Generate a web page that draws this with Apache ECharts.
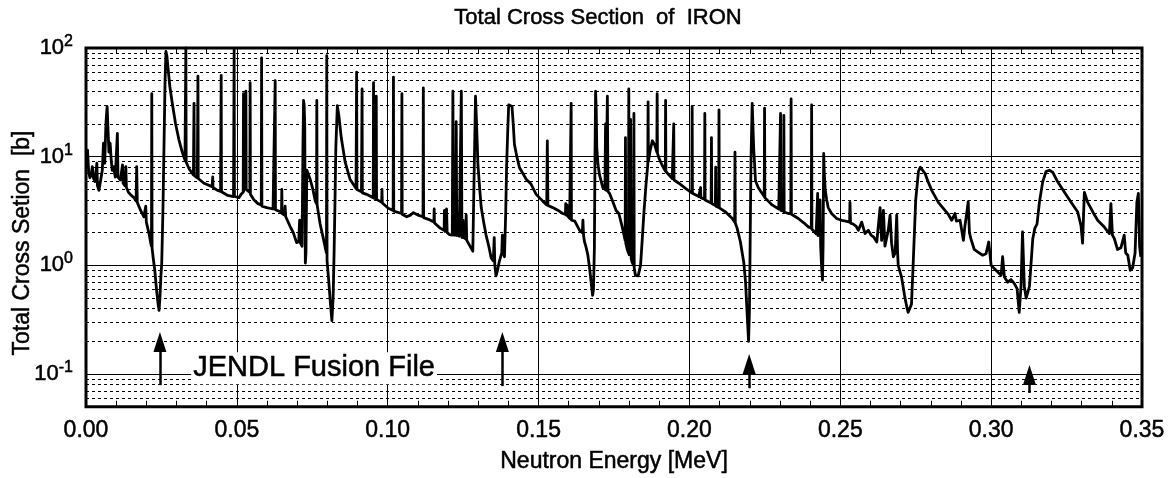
<!DOCTYPE html>
<html>
<head>
<meta charset="utf-8">
<title>Total Cross Section of IRON</title>
<script src="https://cdn.jsdelivr.net/npm/echarts@6/dist/echarts.min.js"></script>
<style>
  html, body { margin: 0; padding: 0; background: #fff; }
  #chart { width: 1169px; height: 478px; }
</style>
</head>
<body>
<div id="chart"></div>
<script>
// Fe total cross section, JENDL Fusion File: [energy (MeV), sigma (b)]
const sigma0to60keV = [
  [0.0001, 8.0], [0.0005, 11.5], [0.0009, 7.2], [0.0013, 6.4], [0.0017, 6.8], [0.0021, 8.1],
  [0.0025, 6.3], [0.0030, 5.9], [0.0034, 6.1], [0.0036, 8.7], [0.0038, 5.4], [0.0043, 4.9],
  [0.0049, 5.1], [0.0054, 7.5], [0.0058, 13.3], [0.0062, 8.7], [0.0066, 20], [0.0070, 29],
  [0.0073, 17.6], [0.0076, 11], [0.0080, 13.3], [0.0084, 9.0], [0.0087, 7.5], [0.0091, 8.1],
  [0.0097, 6.5], [0.0102, 6.4], [0.0104, 16.4], [0.0106, 6.5], [0.0114, 6.1], [0.0119, 5.9],
  [0.0121, 8.4], [0.0123, 5.7], [0.0129, 5.4], [0.0132, 8.1], [0.0134, 5.2], [0.0141, 4.7],
  [0.0150, 4.4], [0.0159, 4.2], [0.0166, 3.9], [0.0168, 8.1], [0.0170, 3.8], [0.0181, 3.2],
  [0.0192, 2.8], [0.0196, 2.7], [0.0198, 3.5], [0.0200, 2.5], [0.0209, 1.96], [0.0215, 1.58],
  [0.0217, 1.5], [0.0218, 38], [0.0219, 1.45], [0.0223, 1.15], [0.0228, 0.9], [0.0234, 0.59],
  [0.0239, 0.44], [0.0242, 0.385], [0.0245, 0.5], [0.0248, 0.78], [0.0251, 1.04], [0.0255, 3.2],
  [0.0259, 15], [0.0262, 50], [0.0265, 93], [0.0268, 85], [0.0272, 65], [0.0278, 44],
  [0.0286, 31], [0.0297, 20], [0.0308, 14.3], [0.0319, 11], [0.0328, 9.3], [0.0330, 9.0],
  [0.0331, 100], [0.0332, 8.9], [0.0342, 7.7], [0.0356, 6.8], [0.0357, 6.8], [0.0358, 31],
  [0.0359, 6.7], [0.0369, 6.4], [0.0370, 6.4], [0.0371, 55], [0.0372, 6.3], [0.0391, 5.7],
  [0.0418, 5.3], [0.0419, 5.3], [0.0420, 6.5], [0.0421, 5.2], [0.0436, 4.9], [0.0446, 4.8],
  [0.0447, 4.8], [0.0448, 56], [0.0449, 4.75], [0.0470, 4.4], [0.0489, 4.3], [0.0490, 4.3],
  [0.0491, 97], [0.0492, 4.3], [0.0507, 4.2], [0.0514, 4.5], [0.0521, 4.7], [0.0522, 38],
  [0.0523, 4.8], [0.0529, 5.0], [0.0530, 40], [0.0531, 5.0], [0.0537, 4.9], [0.0543, 4.7],
  [0.0544, 48], [0.0545, 4.5], [0.0557, 4.0], [0.0570, 3.7], [0.0581, 3.6], [0.0582, 81],
  [0.0583, 3.5], [0.0599, 3.4]
];

const sigma60to120keV = [
  [0.0620, 3.3], [0.0626, 3.3], [0.0627, 50], [0.0628, 3.25], [0.0640, 3.15], [0.0648, 3.1],
  [0.0649, 5.0], [0.0650, 3.0], [0.0658, 2.9], [0.0660, 3.5], [0.0662, 2.8], [0.0676, 2.3],
  [0.0687, 2.0], [0.0698, 1.62], [0.0705, 1.65], [0.0708, 2.6], [0.0711, 1.6], [0.0716, 1.5],
  [0.0719, 12], [0.0721, 33], [0.0723, 30], [0.0725, 20], [0.0727, 1.05], [0.0729, 1.3],
  [0.0732, 7.5], [0.0736, 7.0], [0.0743, 6.2], [0.0752, 5.0], [0.0760, 3.9], [0.0764, 3.7],
  [0.0765, 33], [0.0766, 3.6], [0.0776, 2.4], [0.0786, 1.8], [0.0793, 1.45], [0.0797, 1.3],
  [0.0798, 85], [0.0799, 1.1], [0.0804, 0.75], [0.0810, 0.45], [0.0815, 0.31], [0.0819, 0.5],
  [0.0822, 1.2], [0.0825, 3.5], [0.0828, 12], [0.0833, 29.5], [0.0838, 24], [0.0846, 15],
  [0.0859, 8.9], [0.0875, 6.2], [0.0895, 5.1], [0.0896, 5.05], [0.0897, 60], [0.0898, 5.0],
  [0.0913, 4.75], [0.0914, 4.7], [0.0915, 42], [0.0916, 4.65], [0.0930, 4.5], [0.0952, 4.2],
  [0.0953, 48], [0.0954, 4.15], [0.0961, 4.1], [0.0962, 36], [0.0963, 4.05], [0.0980, 3.8],
  [0.0981, 5.0], [0.0982, 3.75], [0.1002, 3.35], [0.1018, 3.2], [0.1019, 54], [0.1020, 3.15],
  [0.1046, 3.0], [0.1047, 38], [0.1048, 2.95], [0.1063, 2.8], [0.1075, 2.9], [0.1085, 3.05],
  [0.1100, 2.9], [0.1117, 2.8], [0.1118, 43], [0.1119, 2.75], [0.1135, 2.65], [0.1153, 2.5],
  [0.1154, 3.3], [0.1155, 2.45], [0.1174, 2.2], [0.1187, 2.1], [0.1188, 3.2], [0.1190, 2.05],
  [0.1195, 3.3], [0.1197, 2.0], [0.1205, 1.92]
];

const sigma120to235keV = [
  [0.1214, 1.9], [0.1216, 40], [0.1218, 1.9], [0.1225, 1.9], [0.1227, 21], [0.1229, 1.88],
  [0.1232, 1.85], [0.1235, 3.0], [0.1237, 1.85], [0.1242, 1.85], [0.1244, 40], [0.1246, 1.8],
  [0.1250, 2.6], [0.1252, 1.8], [0.1259, 1.75], [0.1260, 2.9], [0.1262, 1.7], [0.1270, 1.55],
  [0.1282, 1.35], [0.1288, 1.4], [0.1291, 36], [0.1294, 22], [0.1299, 8.5], [0.1305, 5.0],
  [0.1310, 3.4], [0.1318, 2.5], [0.1326, 1.9], [0.1335, 1.5], [0.1343, 1.17], [0.1350, 1.1],
  [0.1353, 1.8], [0.1355, 1.0], [0.1359, 0.8], [0.1364, 0.9], [0.1370, 1.09], [0.1378, 1.3],
  [0.1380, 1.9], [0.1383, 1.3], [0.1387, 1.2], [0.1391, 3.0], [0.1394, 8], [0.1398, 18],
  [0.1401, 30], [0.1406, 30], [0.1412, 29], [0.1416, 20], [0.1420, 13], [0.1428, 10],
  [0.1437, 7.9], [0.1448, 7.0], [0.1459, 6.2], [0.1475, 5.6], [0.1492, 4.5], [0.1514, 3.9],
  [0.1527, 3.6], [0.1529, 14], [0.1531, 3.55], [0.1547, 3.4], [0.1565, 3.2], [0.1580, 3.0],
  [0.1589, 2.95], [0.1590, 3.7], [0.1592, 2.9], [0.1594, 3.6], [0.1596, 2.85], [0.1603, 2.7],
  [0.1607, 2.65], [0.1608, 31], [0.1609, 2.6], [0.1620, 2.55], [0.1636, 2.1], [0.1645, 2.0],
  [0.1647, 2.6], [0.1649, 1.9], [0.1652, 1.66], [0.1658, 1.45], [0.1663, 1.26], [0.1669, 0.95],
  [0.1674, 0.71], [0.1679, 0.53], [0.1682, 0.6], [0.1685, 1.45], [0.1687, 10], [0.1689, 40],
  [0.1691, 28], [0.1693, 12], [0.1697, 8.5], [0.1702, 6.8], [0.1713, 5.2], [0.1720, 5.0],
  [0.1722, 20], [0.1724, 4.9], [0.1727, 4.9], [0.1728, 36], [0.1730, 4.8], [0.1735, 4.6],
  [0.1744, 4.0], [0.1757, 3.2], [0.1766, 3.0], [0.1775, 2.4], [0.1783, 1.9], [0.1787, 1.7],
  [0.1788, 15], [0.1789, 1.6], [0.1794, 1.4], [0.1798, 1.3], [0.1799, 42], [0.1800, 1.25],
  [0.1803, 1.2], [0.1805, 22], [0.1807, 1.15], [0.1810, 1.07], [0.1815, 1.0], [0.1816, 25],
  [0.1817, 0.95], [0.1821, 0.81], [0.1830, 0.8], [0.1838, 1.0], [0.1844, 1.8], [0.1849, 3.0],
  [0.1856, 5.5], [0.1862, 8.5], [0.1863, 32], [0.1864, 9.0], [0.1870, 11.5], [0.1877, 14],
  [0.1885, 12.8], [0.1892, 11], [0.1893, 38], [0.1894, 10.8], [0.1899, 9.7], [0.1910, 8.3],
  [0.1920, 7.4], [0.1921, 33], [0.1922, 7.3], [0.1943, 6.3], [0.1947, 6.2], [0.1948, 20],
  [0.1949, 6.1], [0.1965, 5.7], [0.1987, 5.1], [0.2008, 4.65], [0.2009, 29], [0.2010, 4.6],
  [0.2031, 4.3], [0.2036, 4.25], [0.2037, 5.2], [0.2038, 4.2], [0.2050, 4.05], [0.2051, 25],
  [0.2052, 4.0], [0.2072, 3.75], [0.2073, 15], [0.2074, 3.7], [0.2086, 3.55], [0.2087, 8],
  [0.2088, 3.5], [0.2097, 3.4], [0.2098, 27], [0.2099, 3.38], [0.2120, 3.1], [0.2142, 2.7],
  [0.2150, 2.5], [0.2151, 11], [0.2152, 2.45], [0.2158, 2.2], [0.2169, 1.64], [0.2180, 1.07],
  [0.2186, 0.7], [0.2191, 0.37], [0.2196, 0.2], [0.2199, 0.4], [0.2201, 1.4], [0.2204, 9],
  [0.2208, 31], [0.2213, 12], [0.2219, 6.0], [0.2228, 5.2], [0.2236, 4.8], [0.2248, 4.3],
  [0.2249, 28], [0.2250, 4.2], [0.2274, 3.6], [0.2296, 3.3], [0.2301, 3.25], [0.2302, 25],
  [0.2303, 3.2], [0.2312, 3.15], [0.2313, 24], [0.2314, 3.1], [0.2328, 3.0], [0.2336, 3.0],
  [0.2337, 34], [0.2338, 2.95]
];

const sigma235to350keV = [
  [0.2361, 2.7], [0.2380, 2.45], [0.2394, 2.26], [0.2404, 2.2], [0.2405, 30], [0.2406, 2.15],
  [0.2411, 2.1], [0.2420, 1.95], [0.2424, 1.9], [0.2425, 4.6], [0.2426, 1.88], [0.2431, 1.85],
  [0.2433, 4.0], [0.2435, 1.5], [0.2438, 0.97], [0.2441, 0.73], [0.2443, 1.5], [0.2445, 10.7],
  [0.2447, 7], [0.2450, 5.0], [0.2455, 4.0], [0.2460, 3.4], [0.2471, 3.0], [0.2488, 2.7],
  [0.2504, 2.6], [0.2518, 2.55], [0.2531, 2.5], [0.2532, 3.8], [0.2534, 2.45], [0.2543, 2.4],
  [0.2552, 2.3], [0.2560, 2.1], [0.2571, 2.5], [0.2582, 1.96], [0.2593, 2.1], [0.2602, 1.9],
  [0.2610, 1.83], [0.2621, 1.64], [0.2632, 3.4], [0.2637, 1.7], [0.2643, 3.2], [0.2648, 1.5],
  [0.2659, 2.1], [0.2665, 2.9], [0.2670, 1.6], [0.2676, 1.2], [0.2682, 1.3], [0.2687, 2.9],
  [0.2690, 1.3], [0.2692, 1.0], [0.2703, 0.78], [0.2714, 0.51], [0.2720, 0.42], [0.2725, 0.37],
  [0.2731, 0.38], [0.2736, 0.44], [0.2742, 1.1], [0.2750, 4.0], [0.2759, 7.3], [0.2765, 8.0],
  [0.2770, 8.0], [0.2781, 7.0], [0.2792, 5.8], [0.2803, 4.9], [0.2825, 3.8], [0.2847, 3.2],
  [0.2858, 2.95], [0.2869, 2.6], [0.2875, 2.8], [0.2880, 3.0], [0.2885, 2.55], [0.2891, 2.5],
  [0.2897, 2.6], [0.2902, 2.7], [0.2908, 1.7], [0.2913, 2.3], [0.2919, 3.0], [0.2924, 3.85],
  [0.2928, 2.0], [0.2933, 1.75], [0.2944, 1.4], [0.2955, 1.33], [0.2972, 1.24], [0.2983, 1.28],
  [0.2992, 1.64], [0.3000, 1.0], [0.3016, 0.9], [0.3033, 0.81], [0.3038, 1.2], [0.3044, 0.78],
  [0.3055, 0.7], [0.3066, 0.74], [0.3077, 0.68], [0.3086, 0.61], [0.3093, 0.37], [0.3099, 0.64],
  [0.3104, 2.03], [0.3110, 0.64], [0.3116, 0.5], [0.3121, 0.49], [0.3127, 0.64], [0.3138, 1.76],
  [0.3145, 2.2], [0.3152, 2.4], [0.3160, 3.8], [0.3171, 5.9], [0.3182, 7.3], [0.3193, 7.5],
  [0.3204, 7.2], [0.3220, 5.9], [0.3243, 4.7], [0.3265, 3.8], [0.3287, 3.1], [0.3298, 2.3],
  [0.3303, 1.6], [0.3309, 4.7], [0.3320, 3.8], [0.3337, 3.1], [0.3353, 2.6], [0.3375, 2.25],
  [0.3392, 1.96], [0.3397, 3.7], [0.3402, 1.9], [0.3408, 1.77], [0.3419, 1.4], [0.3430, 1.45],
  [0.3441, 1.9], [0.3446, 1.3], [0.3453, 1.24], [0.3461, 0.9], [0.3469, 0.95], [0.3477, 1.3],
  [0.3483, 3.8], [0.3488, 4.6], [0.3492, 1.5], [0.3496, 1.2]
];

// Axis ticks
const energyTicks = [0.00, 0.05, 0.10, 0.15, 0.20, 0.25, 0.30, 0.35];
const sigmaDecades = [0.1, 1, 10, 100];
const sigmaMinorGrid = [
  0.06, 0.07, 0.08, 0.09,
  0.2, 0.3, 0.4, 0.5, 0.6, 0.7, 0.8, 0.9,
  2, 3, 4, 5, 6, 7, 8, 9,
  20, 30, 40, 50, 60, 70, 80, 90
];

// Arrows marking the cross-section windows: energy, shaft foot, arrow head
const arrowEnergy = [0.0245, 0.1380, 0.2198, 0.3127];
const arrowFoot   = [0.079, 0.0775, 0.074, 0.067];
const arrowHead   = [0.197, 0.197, 0.124, 0.098];

// Library label position
const libraryLabel = { text: 'JENDL Fusion File', energy: 0.0756, sigma: 0.113 };

const FONT = '"Liberation Sans", Arial, Helvetica, sans-serif';
// slight stroke so the lettering has the weight of the printed figure
const INK = { color: '#000', textBorderColor: '#000', textBorderWidth: 0.5 };

const crossSection = [].concat(sigma0to60keV, sigma60to120keV, sigma120to235keV, sigma235to350keV);

function isDecade(v) {
  return sigmaDecades.some(d => Math.abs(d - v) / d < 1e-6);
}

const chart = echarts.init(document.getElementById('chart'), null, { renderer: 'canvas' });

chart.setOption({
  animation: false,
  backgroundColor: '#fff',
  title: {
    text: 'Total Cross Section  of  IRON',
    left: 598,
    top: 7,
    textAlign: 'center',
    padding: 0,
    textStyle: Object.assign({ fontFamily: FONT, fontSize: 22, fontWeight: 'normal' }, INK)
  },
  grid: {
    left: 86, right: 27, top: 48, bottom: 71,
    show: true, borderColor: '#000', borderWidth: 3, backgroundColor: 'transparent'
  },
  xAxis: [
    {
      type: 'value', position: 'bottom',
      min: energyTicks[0], max: energyTicks[energyTicks.length - 1], interval: 0.05,
      axisLine: { show: false },
      axisTick: { show: true, inside: true, length: 6, lineStyle: { color: '#000', width: 1 } },
      minorTick: { show: true, splitNumber: 5, length: 6, lineStyle: { color: '#000', width: 1 } },
      axisLabel: Object.assign({
        margin: 12, fontFamily: FONT, fontSize: 23,
        formatter: v => v.toFixed(2)
      }, INK),
      splitLine: { show: true, lineStyle: { color: '#000', width: 1, type: 'solid' } },
      name: 'Neutron Energy [MeV]',
      nameLocation: 'middle', nameGap: 43,
      nameTextStyle: Object.assign({ fontFamily: FONT, fontSize: 23 }, INK)
    },
    {
      type: 'value', position: 'top',
      min: energyTicks[0], max: energyTicks[energyTicks.length - 1], interval: 0.05,
      axisLine: { show: false },
      axisTick: { show: true, inside: true, length: 6, lineStyle: { color: '#000', width: 1 } },
      minorTick: { show: true, splitNumber: 5, length: 6, lineStyle: { color: '#000', width: 1 } },
      axisLabel: { show: false },
      splitLine: { show: false }
    }
  ],
  yAxis: {
    type: 'log', logBase: 10, min: 0.05, max: 100,
    axisLine: { show: false },
    axisTick: { show: false },
    axisLabel: {
      margin: 13, color: '#000', fontFamily: FONT,
      formatter: v => isDecade(v) ? '{b|10}{s|' + Math.round(Math.log10(v)) + '}' : '',
      rich: {
        b: Object.assign({ fontFamily: FONT, fontSize: 22 }, INK),
        s: Object.assign({ fontFamily: FONT, fontSize: 16, padding: [0, 0, 13, 0] }, INK)
      }
    },
    splitLine: { show: true, lineStyle: { color: '#000', width: 1, type: 'solid' } }
  },
  graphic: [
    {
      type: 'text', x: 23, y: 243, rotation: Math.PI / 2,
      style: {
        text: 'Total Cross Setion  [b]', fill: '#000', stroke: '#000', lineWidth: 0.5,
        font: '23px ' + FONT, textAlign: 'center', textVerticalAlign: 'middle'
      }
    }
  ],
  series: [
    {
      // dashed minor grid at 2..9 of each decade
      type: 'line', data: [], silent: true, z: 1,
      markLine: {
        silent: true, symbol: ['none', 'none'], animation: false,
        label: { show: false },
        lineStyle: { color: '#000', width: 1, type: [3, 3] },
        data: sigmaMinorGrid.map(v => ({ yAxis: v }))
      }
    },
    {
      name: 'Fe total',
      type: 'line',
      data: crossSection,
      showSymbol: false,
      symbol: 'none',
      clip: true,
      z: 5,
      lineStyle: { color: '#000', width: 2.8, join: 'round' }
    },
    {
      // window arrows
      type: 'line', data: [], silent: true, z: 6,
      markLine: {
        silent: true, animation: false,
        symbol: ['none', 'triangle'], symbolSize: [13, 20],
        label: { show: false },
        lineStyle: { color: '#000', width: 2.5, type: 'solid' },
        itemStyle: { color: '#000' },
        data: arrowEnergy.map((e, i) => [
          { coord: [e, arrowFoot[i]] },
          { coord: [e, arrowHead[i]] }
        ])
      }
    },
    {
      // library label, boxed in white
      type: 'scatter', z: 8, silent: true,
      symbolSize: 0,
      itemStyle: { opacity: 1, color: '#000' },
      data: [[libraryLabel.energy, libraryLabel.sigma]],
      label: Object.assign({
        show: true, position: 'inside', opacity: 1,
        formatter: libraryLabel.text,
        fontFamily: FONT, fontSize: 29,
        backgroundColor: '#fff', padding: [5, 2, 3, 2], lineHeight: 24
      }, INK)
    }
  ]
});
</script>
</body>
</html>
